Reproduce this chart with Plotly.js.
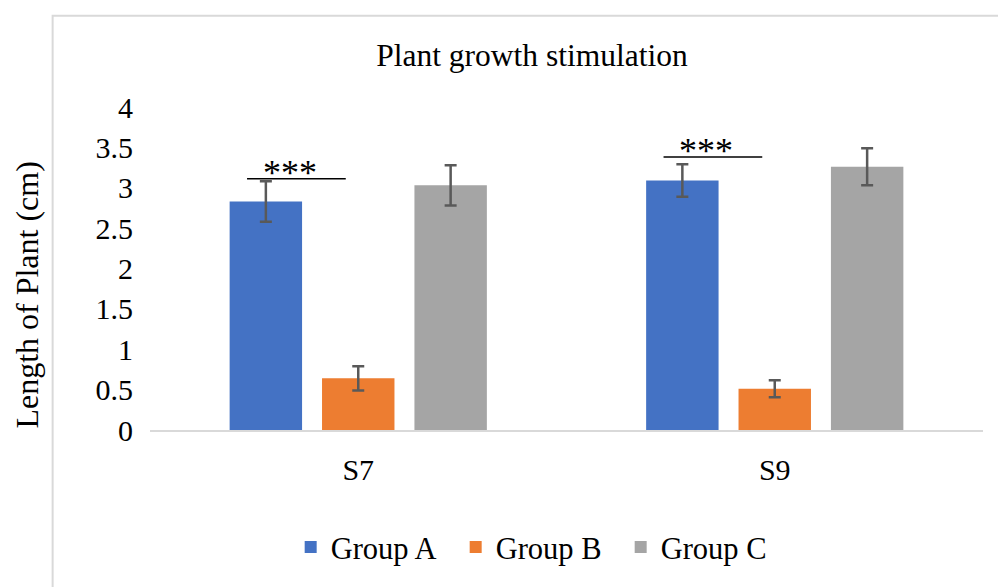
<!DOCTYPE html>
<html>
<head>
<meta charset="utf-8">
<script src="https://cdn.plot.ly/plotly-3.0.1.min.js"></script>
<style>
  html, body { margin: 0; padding: 0; background: #ffffff; }
  #chart { width: 998px; height: 587px; }
</style>
</head>
<body>
<div id="chart"></div>
<script>
// ---- data ----
var categories = ['S7', 'S9'];
var seriesNames = ['Group A', 'Group B', 'Group C'];
var groupA = [2.83, 3.09];
var groupB = [0.64, 0.51];
var groupC = [3.03, 3.26];
var errA = [0.25, 0.20];
var errB = [0.15, 0.105];
var errC = [0.25, 0.23];
var sigCategoryIndex = [0, 1];
var sigLevel = [3.11, 3.38];
var sigLabel = ['***', '***'];
var yTickVals = [0, 0.5, 1, 1.5, 2, 2.5, 3, 3.5, 4];
var yTickText = ['0', '0.5', '1', '1.5', '2', '2.5', '3', '3.5', '4'];

// ---- styles ----
var colors = ['#4472C4', '#ED7D31', '#A5A5A5'];
var errColor = '#595959';
var FONT = 'Liberation Serif, Times New Roman, serif';

function barTrace(name, vals, errs, color) {
  return {
    type: 'bar', name: name, x: categories, y: vals,
    marker: { color: color },
    error_y: { type: 'data', array: errs, visible: true, color: errColor, thickness: 2.5, width: 6 },
    hoverinfo: 'x+y+name'
  };
}

var data = [
  barTrace(seriesNames[0], groupA, errA, colors[0]),
  barTrace(seriesNames[1], groupB, errB, colors[1]),
  barTrace(seriesNames[2], groupC, errC, colors[2])
];

// significance brackets (between Group A and Group B of each category)
var shapes = [];
var annotations = [];
sigCategoryIndex.forEach(function (ci, i) {
  shapes.push({
    type: 'line', xref: 'x', yref: 'y',
    x0: ci - 0.267, x1: ci - 0.03, y0: sigLevel[i], y1: sigLevel[i],
    line: { color: '#000000', width: 1.5 }
  });
  annotations.push({
    xref: 'x', yref: 'y', x: ci - 0.165, y: sigLevel[i],
    text: sigLabel[i], showarrow: false, yanchor: 'bottom', yshift: -16,
    font: { family: FONT, size: 36, color: '#000000' }
  });
});

// chart frame (light border at top and left like the Excel chart area)
shapes.push({
  type: 'rect', xref: 'paper', yref: 'paper', layer: 'below',
  x0: -0.1169, x1: 1.2, y0: -0.7, y1: 1.2824,
  line: { color: '#d9d9d9', width: 2 }, fillcolor: 'rgba(0,0,0,0)'
});

// y-axis title as rotated annotation (positioned like the reference)
annotations.push({
  xref: 'paper', yref: 'paper', x: -0.1481, y: 0.418,
  text: 'Length of Plant (cm)', textangle: -90, showarrow: false,
  xanchor: 'center', yanchor: 'middle',
  font: { family: FONT, size: 32, color: '#000000' }
});

var layout = {
  width: 998, height: 587,
  margin: { l: 149.5, r: 14.5, t: 106.5, b: 156.5, pad: 0 },
  paper_bgcolor: '#ffffff', plot_bgcolor: '#ffffff',
  font: { family: FONT, size: 28, color: '#000000' },
  title: {
    text: 'Plant growth stimulation', xref: 'container', yref: 'container',
    x: 0.533, xanchor: 'center', y: 0.906, yanchor: 'middle',
    font: { family: FONT, size: 31.5, color: '#000000' }
  },
  barmode: 'group', bargap: 0.3345, bargroupgap: 0.216,
  xaxis: {
    type: 'category', showgrid: false, zeroline: false,
    showline: true, linecolor: '#d9d9d9', linewidth: 2,
    ticks: '', ticklabelstandoff: 12,
    tickfont: { family: FONT, size: 30, color: '#000000' }
  },
  yaxis: {
    range: [0, 4], tickvals: yTickVals, ticktext: yTickText,
    showgrid: false, zeroline: false, showline: false, ticks: '',
    ticklabelstandoff: 16,
    tickfont: { family: FONT, size: 30, color: '#000000' }
  },
  showlegend: true,
  legend: {
    orientation: 'h', x: 0.466, xanchor: 'center', y: -0.363, yanchor: 'middle',
    font: { family: FONT, size: 30.5, color: '#000000' },
    entrywidth: 120, entrywidthmode: 'pixels',
    traceorder: 'normal', bgcolor: 'rgba(0,0,0,0)'
  },
  shapes: shapes,
  annotations: annotations
};

Plotly.newPlot('chart', data, layout, { displayModeBar: false, staticPlot: true });
</script>
</body>
</html>
